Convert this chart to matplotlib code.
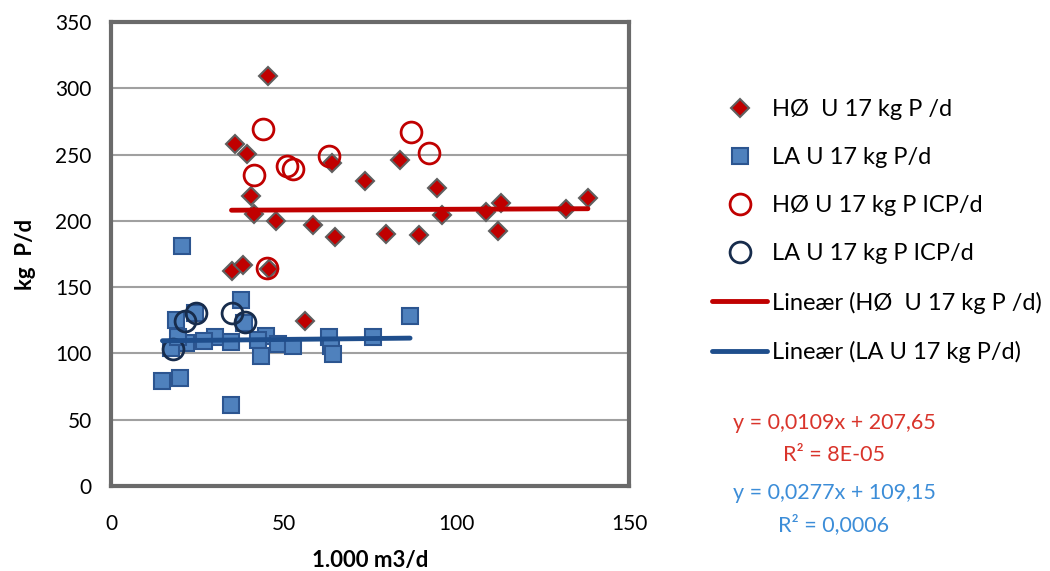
import numpy as np
import matplotlib
matplotlib.use("Agg")
import matplotlib.pyplot as plt

plt.rcParams['font.family'] = ['Lato', 'DejaVu Sans']

# HØ U 17 kg P /d (diamonds)
ho_x = [45.5, 35.9, 39.3, 63.9, 83.8, 73.6, 94.5, 40.6, 112.9, 138.1, 131.9, 108.7,
        95.8, 41.3, 47.8, 58.6, 64.9, 79.7, 89.3, 112.2, 34.9, 38.1, 45.7, 56.1]
ho_y = [309.6, 257.7, 250.1, 243.8, 245.6, 229.7, 224.9, 218.4, 213.6, 216.9, 209.3, 206.8,
        204.3, 205.0, 199.7, 196.5, 187.9, 190.4, 189.2, 192.4, 161.9, 166.9, 163.6, 124.7]

# LA U 17 kg P/d (squares)
la_x = [20.7, 37.7, 18.8, 24.3, 38.5, 86.6, 44.8, 30.2, 26.9, 21.6, 34.7, 42.6,
        48.5, 52.7, 63.1, 63.7, 64.4, 75.9, 43.3, 17.3, 14.9, 20.0, 34.7, 19.5]
la_y = [180.8, 140.4, 125.3, 130.8, 122.7, 128.5, 113.4, 112.1, 109.3, 107.6, 108.8, 110.1,
        106.8, 105.8, 112.1, 105.8, 99.2, 112.1, 98.0, 103.8, 79.0, 81.8, 60.9, 112.6]

# HØ U 17 kg P ICP/d (open red circles)
ho_icp_x = [44.1, 87.0, 92.1, 63.2, 50.9, 52.6, 41.5, 45.2]
ho_icp_y = [269.3, 267.0, 251.4, 249.1, 241.3, 239.0, 234.5, 164.4]

# LA U 17 kg P ICP/d (open navy circles)
la_icp_x = [24.6, 21.5, 34.9, 38.9, 18.0]
la_icp_y = [130.3, 124.7, 130.3, 123.5, 103.3]

# linear trend lines (as printed on the chart)
ho_slope, ho_icept = 0.0109, 207.65
la_slope, la_icept = 0.0277, 109.15

fig = plt.figure(figsize=(10.5, 5.71), dpi=100)
ax = fig.add_axes([111 / 1050, 1 - 486 / 571, (629 - 111) / 1050, (486 - 22) / 571])

ax.plot(ho_x, ho_y, linestyle='none', marker='D', markersize=9.5,
        markerfacecolor='#c00000', markeredgecolor='#5f5f5f', markeredgewidth=1.5,
        label='HØ  U 17 kg P /d', zorder=3)
ax.plot(la_x, la_y, linestyle='none', marker='s', markersize=11,
        markerfacecolor='#4f81bd', markeredgecolor='#2c5590', markeredgewidth=1.5,
        label='LA U 17 kg P/d', zorder=3)
ax.plot(ho_icp_x, ho_icp_y, linestyle='none', marker='o', markersize=15,
        markerfacecolor='none', markeredgecolor='#c00000', markeredgewidth=2,
        label='HØ U 17 kg P ICP/d', zorder=4)
ax.plot(la_icp_x, la_icp_y, linestyle='none', marker='o', markersize=15,
        markerfacecolor='none', markeredgecolor='#172c4c', markeredgewidth=2,
        label='LA U 17 kg P ICP/d', zorder=4)

hx = np.array([min(ho_x), max(ho_x)])
lx = np.array([min(la_x), max(la_x)])
ax.plot(hx, ho_slope * hx + ho_icept, color='#c00000', lw=3.5, solid_capstyle='round',
        label='Lineær (HØ  U 17 kg P /d)', zorder=5)
ax.plot(lx, la_slope * lx + la_icept, color='#1f4e8c', lw=3.5, solid_capstyle='round',
        label='Lineær (LA U 17 kg P/d)', zorder=5)

ax.set_xlim(0, 150)
ax.set_ylim(0, 350)
ax.set_xticks([0, 50, 100, 150])
ax.set_yticks(range(0, 351, 50))
ax.yaxis.grid(True, color='#a0a0a0', lw=1.5)
ax.set_axisbelow(True)
for s in ax.spines.values():
    s.set_color('#6a6a6a')
    s.set_linewidth(3)
ax.tick_params(axis='both', length=0, labelsize=15, colors='#000000')
ax.tick_params(axis='x', pad=20)
ax.tick_params(axis='y', pad=14)

ax.set_xlabel('1.000 m3/d', fontsize=16, fontweight='bold', labelpad=12)
ax.set_ylabel('kg  P/d', fontsize=16, fontweight='bold', labelpad=14)

fig.legend(loc='upper left', bbox_to_anchor=(712 / 1050, 1 - 99 / 571), frameon=False,
           fontsize=17, numpoints=1, handlelength=2.35, handletextpad=0.2,
           labelspacing=1.15, markerscale=1.0, borderaxespad=0, borderpad=0)

eq_red = '#d9342b'
eq_blue = '#3c8dd8'
fig.text(834 / 1050, 1 - 423 / 571, 'y = 0,0109x + 207,65', color=eq_red,
         fontsize=15.5, ha='center', va='center')
fig.text(834 / 1050, 1 - 455 / 571, 'R² = 8E-05', color=eq_red,
         fontsize=15.5, ha='center', va='center')
fig.text(834 / 1050, 1 - 493 / 571, 'y = 0,0277x + 109,15', color=eq_blue,
         fontsize=15.5, ha='center', va='center')
fig.text(834 / 1050, 1 - 525 / 571, 'R² = 0,0006', color=eq_blue,
         fontsize=15.5, ha='center', va='center')

fig.savefig('out.png', dpi=100)
